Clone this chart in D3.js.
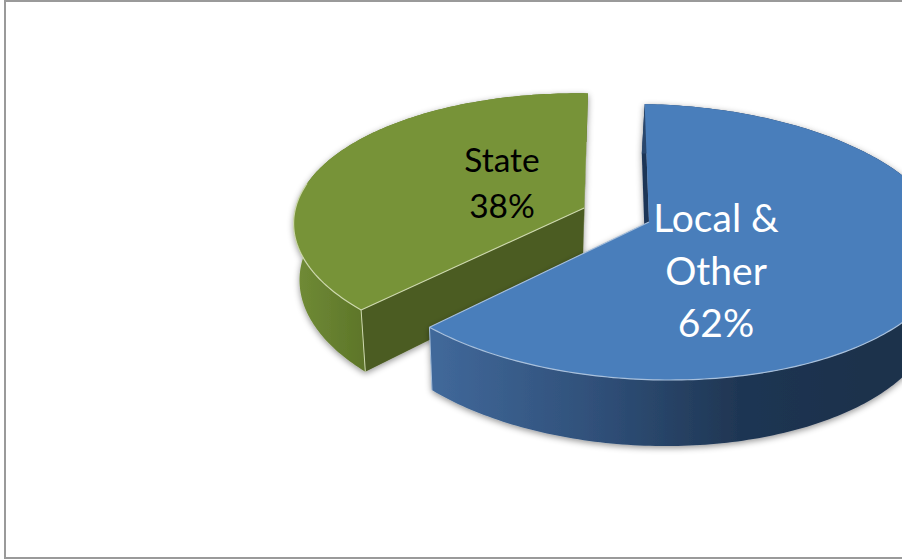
<!DOCTYPE html>
<html>
<head>
<meta charset="utf-8">
<script src="https://cdnjs.cloudflare.com/ajax/libs/d3/7.8.5/d3.min.js"></script>
<style>
  html, body { margin: 0; padding: 0; background: #fff; overflow: hidden; }
  svg { display: block; }
  text { font-family: Lato, "Open Sans", sans-serif; text-anchor: middle; }
</style>
</head>
<body>
<svg id="chart" width="902" height="560"></svg>
<script>
// Funding shares shown on the exploded 3D pie
const categories = ["Local & Other", "State"];
const shares = [62, 38];
const labelLines = [["Local &", "Other", "62%"], ["State", "38%"]];

const svg = d3.select("#chart");
const defs = svg.append("defs");

// Ground plane: unit-radius pie seen in perspective
const view = { vx: 530, vy: 222, a: 293, b: 135.1, p: 0.1449, depth: 56.5, lean: 0.025 };
const startAngle = 2.4 * Math.PI / 180;

// Slice apex offsets on the ground plane (exploded apart)
const apex = {
  "Local & Other": { x: 119 / view.a, y: 0 },
  "State": { x: 55 / view.a, y: -0.105 }
};

const style = {
  "Local & Other": {
    top: "#4a7ebb", rim: "#a8c0dc", cut: "#1f3557",
    wallStops: [["0%", "#41699b"], ["40%", "#2f4f78"], ["72%", "#1f3653"], ["100%", "#1c304c"]],
    wallRange: [428, 860], label: "#ffffff", size: 39, lineStep: 52.5,
    labelX: 716, labelY: 232
  },
  "State": {
    top: "#779338", rim: "#cdd8ad", cut: "#4b5b20",
    wallStops: [["0%", "#6f8a35"], ["100%", "#5d7529"]],
    wallRange: [300, 365], label: "#000000", size: 33.5, lineStep: 46,
    labelX: 502, labelY: 172
  }
};

function project(X, Y, drop) {
  const s = 1 / (1 - view.p * Y);
  const px = view.vx + view.a * X * s;
  const py = view.vy + view.b * Y * s;
  if (!drop) return [px, py];
  return [px - (px - view.vx) * view.lean, py + view.depth * s];
}

// Point on a slice rim at a pie angle (clockwise from the back of the pie)
const rimPoint = (name, angle, drop) =>
  project(apex[name].x + Math.sin(angle), apex[name].y - Math.cos(angle), drop);

const pie = d3.pie().value(d => d.value).sort(null)
  .startAngle(startAngle).endAngle(startAngle + 2 * Math.PI);
const slices = pie(categories.map((c, i) => ({ name: c, value: shares[i] })));
const line = d3.line();

defs.append("filter").attr("id", "soft")
  .attr("x", "-10%").attr("y", "-10%").attr("width", "120%").attr("height", "120%")
  .append("feDropShadow")
  .attr("dx", 0).attr("dy", 2).attr("stdDeviation", 3)
  .attr("flood-color", "#000").attr("flood-opacity", 0.42);

slices.forEach((d, i) => {
  const st = style[d.data.name];
  const g = defs.append("linearGradient").attr("id", "wall" + i)
    .attr("gradientUnits", "userSpaceOnUse")
    .attr("x1", st.wallRange[0]).attr("x2", st.wallRange[1]).attr("y1", 0).attr("y2", 0);
  st.wallStops.forEach(s => g.append("stop").attr("offset", s[0]).attr("stop-color", s[1]));
});

// Frame around the chart area
svg.append("rect").attr("x", 5).attr("y", 1).attr("width", 960).attr("height", 557)
  .attr("fill", "#fff").attr("stroke", "#9a9a9a").attr("stroke-width", 2);

// The back slice goes first so the front slice overlaps it
const order = slices.slice().sort((a, b) => d3.descending(a.index, b.index));

order.forEach(d => {
  const name = d.data.name;
  const st = style[name];
  const n = Math.round((d.endAngle - d.startAngle) * 60);
  const angles = d3.range(n + 1).map(k => d.startAngle + (d.endAngle - d.startAngle) * k / n);
  const top = angles.map(t => rimPoint(name, t, false));
  const bottom = angles.map(t => rimPoint(name, t, true));
  const centerTop = project(apex[name].x, apex[name].y, false);
  const centerBottom = project(apex[name].x, apex[name].y, true);
  const group = svg.append("g").attr("class", "slice");
  const solid = group.append("g").attr("filter", "url(#soft)");

  // Cut faces
  solid.append("path")
    .attr("d", line([top[0], centerTop, centerBottom, bottom[0]]) + "Z")
    .attr("fill", st.cut);
  solid.append("path")
    .attr("d", line([top[n], centerTop, centerBottom, bottom[n]]) + "Z")
    .attr("fill", st.cut);

  // Outer wall, then the top face over it
  const wallIndex = slices.indexOf(d);
  solid.append("path")
    .attr("d", line(top.concat(bottom.slice().reverse())) + "Z")
    .attr("fill", "url(#wall" + wallIndex + ")");
  solid.append("path")
    .attr("d", line(top.concat([centerTop])) + "Z")
    .attr("fill", st.top);

  // Lit edges along the near rim and the near cut
  const nearRim = top.filter((p, k) => Math.cos(angles[k]) < 0.2);
  group.append("path").attr("d", line(nearRim)).attr("fill", "none")
    .attr("stroke", st.rim).attr("stroke-width", 1.2);
  const cutIndex = name === "State" ? 0 : n;
  group.append("path").attr("d", line([top[cutIndex], centerTop])).attr("fill", "none")
    .attr("stroke", st.rim).attr("stroke-width", 1.1);
  group.append("path").attr("d", line([top[cutIndex], bottom[cutIndex]])).attr("fill", "none")
    .attr("stroke", st.rim).attr("stroke-width", 1);

  // Category and share label
  const lines = labelLines[categories.indexOf(name)];
  const text = group.append("text").attr("fill", st.label).attr("font-size", st.size);
  lines.forEach((t, k) => {
    text.append("tspan").attr("x", st.labelX).attr("y", st.labelY + k * st.lineStep).text(t);
  });
});
</script>
</body>
</html>
